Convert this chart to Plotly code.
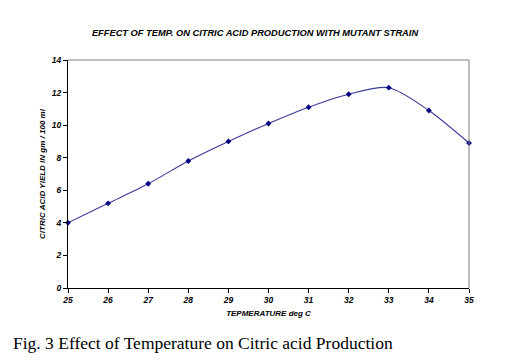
import plotly.graph_objects as go

temperature = [25, 26, 27, 28, 29, 30, 31, 32, 33, 34, 35]
citric_yield = [4.0, 5.2, 6.4, 7.8, 9.0, 10.1, 11.1, 11.9, 12.3, 10.9, 8.9]
y_ticks = [0, 2, 4, 6, 8, 10, 12, 14]

fig = go.Figure()
fig.add_trace(go.Scatter(
    x=temperature, y=citric_yield, mode="lines+markers",
    line=dict(color="#3a3a9a", width=1.1, shape="spline", smoothing=0.8),
    marker=dict(symbol="diamond", size=4.5, color="#000080"),
    cliponaxis=False, showlegend=False,
))

tickfont = dict(family="Liberation Sans, Arial", size=8.5, color="black", weight="bold", style="italic")
fig.update_layout(
    width=505, height=360,
    margin=dict(l=60, r=44, t=52, b=80),
    paper_bgcolor="white", plot_bgcolor="white",
    title=dict(text="EFFECT OF TEMP. ON CITRIC ACID PRODUCTION WITH MUTANT STRAIN",
               x=(255 - 8) / 505, xanchor="center", y=1 - 25 / 360, yanchor="middle",
               font=dict(family="Liberation Sans, Arial", size=9.3, color="black", weight="bold", style="italic")),
    xaxis=dict(range=[25, 35], tickvals=temperature, ticks="outside", ticklen=4, tickcolor="black",
               showline=True, linecolor="black", linewidth=1, mirror=False, showgrid=False, zeroline=False,
               tickfont=tickfont, tickangle=0,
               title=dict(text="TEPMERATURE deg C", standoff=6,
                          font=dict(family="Liberation Sans, Arial", size=8, color="black", weight="bold", style="italic"))),
    yaxis=dict(range=[0, 14], tickvals=y_ticks, ticks="outside", ticklen=4, tickcolor="black",
               showline=True, linecolor="black", linewidth=1, showgrid=False, zeroline=False,
               tickfont=tickfont,
               title=dict(text="CITRIC ACID YIELD IN gm / 100 ml", standoff=5,
                          font=dict(family="Liberation Sans, Arial", size=8, color="black", weight="bold", style="italic"))),
    shapes=[
        dict(type="line", xref="paper", yref="paper", x0=0, x1=1, y0=1, y1=1, line=dict(color="#808080", width=1)),
        dict(type="line", xref="paper", yref="paper", x0=1, x1=1, y0=0, y1=1, line=dict(color="#808080", width=1)),
    ],
    annotations=[
        dict(text="Fig. 3 Effect of Temperature on Citric acid Production", xref="paper", yref="paper",
             x=(3 - 60) / 401, xanchor="left", y=-(335 - 280) / 228, yanchor="middle", showarrow=False,
             font=dict(family="Liberation Serif, Times New Roman", size=17.5, color="black")),
    ],
)
fig.write_html("out.html")
